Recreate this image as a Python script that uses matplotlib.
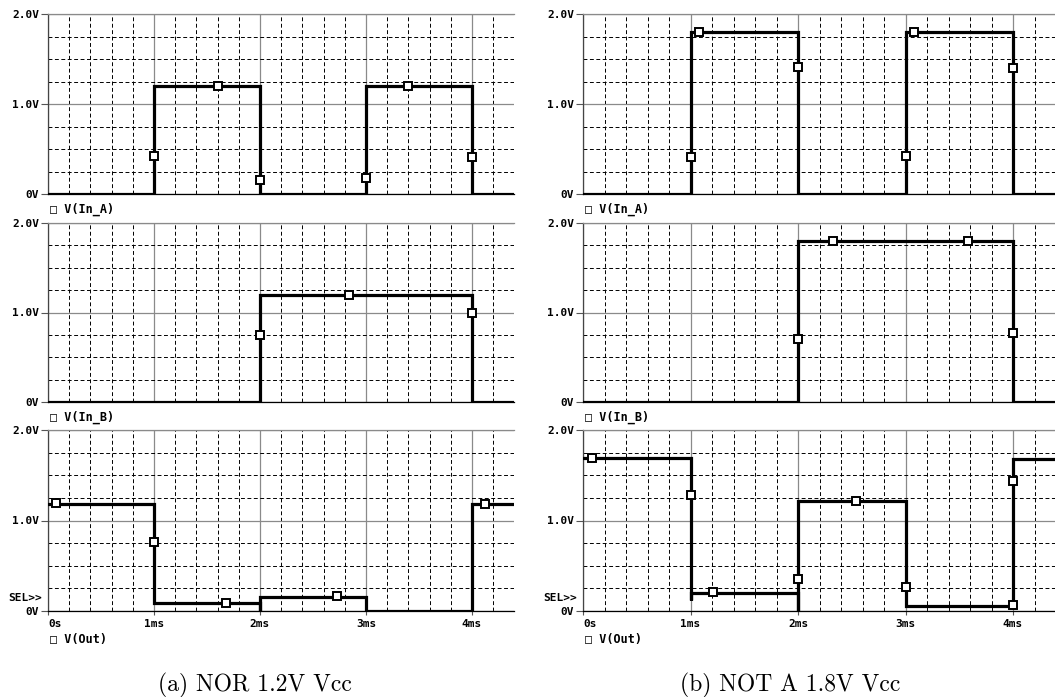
import matplotlib
matplotlib.use("Agg")
import matplotlib.pyplot as plt
from matplotlib.ticker import MultipleLocator

# ---------------- data ----------------
# Left: NOR 1.2V Vcc
nor_a_t = [0, 1, 1, 2, 2, 3, 3, 4, 4, 4.6]
nor_a_v = [0, 0, 1.2, 1.2, 0, 0, 1.2, 1.2, 0, 0]
nor_a_mt = [1.0, 1.6, 2.0, 3.0, 3.4, 4.0]
nor_a_mv = [0.42, 1.2, 0.16, 0.18, 1.2, 0.41]

nor_b_t = [0, 2, 2, 4, 4, 4.6]
nor_b_v = [0, 0, 1.2, 1.2, 0, 0]
nor_b_mt = [2.0, 2.84, 4.0]
nor_b_mv = [0.75, 1.2, 1.0]

nor_o_t = [0, 1, 1, 2, 2, 2, 3, 3, 4, 4, 4.6]
nor_o_v = [1.18, 1.18, 0.09, 0.09, 0.0, 0.16, 0.16, 0.0, 0.0, 1.18, 1.18]
nor_o_mt = [0.08, 1.0, 1.68, 2.73, 4.12]
nor_o_mv = [1.19, 0.76, 0.09, 0.17, 1.18]

# Right: NOT A 1.8V Vcc
not_a_t = [0, 1, 1, 2, 2, 3, 3, 4, 4, 4.6]
not_a_v = [0, 0, 1.8, 1.8, 0, 0, 1.8, 1.8, 0, 0]
not_a_mt = [1.0, 1.08, 2.0, 3.0, 3.08, 4.0]
not_a_mv = [0.41, 1.8, 1.41, 0.42, 1.8, 1.4]

not_b_t = [0, 2, 2, 4, 4, 4.6]
not_b_v = [0, 0, 1.8, 1.8, 0, 0]
not_b_mt = [2.0, 2.33, 3.58, 4.0]
not_b_mv = [0.7, 1.8, 1.8, 0.77]

not_o_t = [0, 1, 1, 1, 2, 2, 2, 3, 3, 4, 4, 4.6]
not_o_v = [1.69, 1.69, 0.12, 0.2, 0.2, 0.0, 1.21, 1.21, 0.06, 0.06, 1.68, 1.68]
not_o_mt = [0.08, 1.0, 1.21, 2.0, 2.54, 3.0, 4.0, 4.0]
not_o_mv = [1.69, 1.28, 0.21, 0.35, 1.21, 0.26, 0.07, 1.44]

x_ticks = [0, 1, 2, 3, 4]
x_tick_labels = ["0s", "1ms", "2ms", "3ms", "4ms"]
y_ticks = [0, 1, 2]
y_tick_labels = ["0V", "1.0V", "2.0V"]
trace_names = ["V(In_A)", "V(In_B)", "V(Out)"]
captions = ["(a) NOR 1.2V Vcc", "(b) NOT A 1.8V Vcc"]

columns = [
    [(nor_a_t, nor_a_v, nor_a_mt, nor_a_mv),
     (nor_b_t, nor_b_v, nor_b_mt, nor_b_mv),
     (nor_o_t, nor_o_v, nor_o_mt, nor_o_mv)],
    [(not_a_t, not_a_v, not_a_mt, not_a_mv),
     (not_b_t, not_b_v, not_b_mt, not_b_mv),
     (not_o_t, not_o_v, not_o_mt, not_o_mv)],
]

# ---------------- layout ----------------
W, H = 1055, 697
fig = plt.figure(figsize=(W / 100, H / 100), dpi=100)
mono = ["DejaVu Sans Mono", "DejaVu Sans"]

col_left = [48, 583]
col_px_per_ms = [106.0, 107.5]
xmax = 4.4
rows = [(14, 194), (223, 402), (430, 611)]

for ci, col in enumerate(columns):
    x0 = col_left[ci]
    wpx = col_px_per_ms[ci] * xmax
    for ri, (t, v, mt, mv) in enumerate(col):
        ytop, ybot = rows[ri]
        ax = fig.add_axes([x0 / W, 1 - ybot / H, wpx / W, (ybot - ytop) / H])
        ax.set_xlim(0, xmax)
        ax.set_ylim(0, 2.0)
        ax.xaxis.set_minor_locator(MultipleLocator(0.2))
        ax.yaxis.set_minor_locator(MultipleLocator(0.25))
        ax.set_xticks(x_ticks)
        ax.set_yticks(y_ticks)
        ax.set_yticklabels(y_tick_labels, family=mono, fontweight="bold", fontsize=8)
        if ri == 2:
            ax.set_xticklabels(x_tick_labels, family=mono, fontweight="bold", fontsize=8)
            ax.get_xticklabels()[0].set_horizontalalignment("left")
        else:
            ax.set_xticklabels([])
        ax.grid(which="minor", color="black", linestyle=(0, (4.0, 2.6)), linewidth=0.7)
        ax.grid(which="major", color="#8a8a8a", linestyle="-", linewidth=0.9)
        ax.tick_params(which="minor", length=0)
        ax.tick_params(which="major", length=5, width=0.8, pad=1.5, color="#555555")
        ax.tick_params(axis="x", which="major", length=3 if ri == 2 else 0, pad=3)
        ax.set_axisbelow(True)
        ax.spines["right"].set_visible(False)
        ax.spines["top"].set_color("#8a8a8a")
        ax.spines["left"].set_color("#444444")
        ax.spines["bottom"].set_color("black")
        for s in ax.spines.values():
            s.set_linewidth(0.9)

        ax.plot(t, v, color="black", linewidth=2.3, solid_joinstyle="miter", zorder=3)
        ax.plot(mt, mv, linestyle="none", marker="s", markersize=5.5,
                markerfacecolor="white", markeredgecolor="black",
                markeredgewidth=1.4, zorder=4)

        if ri == 2:
            ax.text(-0.012, 0.14, "SEL>>", transform=ax.get_yaxis_transform(),
                    ha="right", va="center", family=mono, fontweight="bold",
                    fontsize=8)

        # legend label below the panel
        ly = ybot + (15 if ri < 2 else 28)
        fig.text((x0 + 2) / W, 1 - ly / H, "\u25a1 " + trace_names[ri],
                 family=mono, fontweight="bold", fontsize=8.5,
                 ha="left", va="center")

fig.text(255 / W, 1 - 685 / H, captions[0], family="cmr10", fontsize=17,
         ha="center", va="center")
fig.text(790 / W, 1 - 685 / H, captions[1], family="cmr10", fontsize=17,
         ha="center", va="center")

fig.savefig("out.png", dpi=100)
